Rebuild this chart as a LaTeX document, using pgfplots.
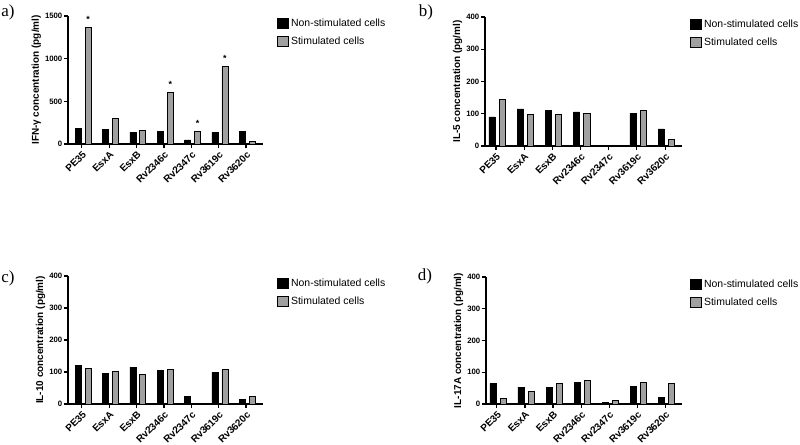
\documentclass[border=0pt]{standalone}
\usepackage{pgfplots}
\pgfplotsset{compat=1.18}
\usepackage{fontspec}
\setmainfont{Liberation Sans}
\newfontfamily\seriffont{Liberation Serif}
\definecolor{barg}{RGB}{160,160,160}
\pgfplotsset{
  panel/.style={
    scale only axis, ybar, bar width=0.22, ymin=0,
    axis lines=left, axis line style={-, line width=1.3bp},
    tick style={line width=1.1bp, black}, tick align=outside, major tick length=4bp,
    xtick={0,...,6},
    xticklabels={PE35,EsxA,EsxB,Rv2346c,Rv2347c,Rv3619c,Rv3620c},
    xticklabel style={rotate=45, anchor=north east, inner sep=1.5bp, font=\bfseries\fontsize{10}{11}\selectfont},
    yticklabel style={font=\bfseries\fontsize{7.8}{9}\selectfont, inner sep=1.5bp},
    /pgf/number format/assume math mode=true,
    /pgf/number format/1000 sep={},
    ylabel style={font=\bfseries\fontsize{10}{12}\selectfont, yshift=-1bp},
    legend style={draw=none, fill=none, at={(1,1)}, anchor=north west, xshift=6bp, yshift=-1bp, font=\fontsize{10.5}{12}\selectfont, row sep=4.5bp, cells={anchor=west}, inner sep=0pt},
    legend image code/.code={\draw[#1] (0bp,-5bp) rectangle (11bp,5bp);},
    clip=false,
  },
  blackbar/.style={fill=black, draw=black, line width=0.6bp, bar shift=-0.14},
  graybar/.style={fill=barg, draw=black, line width=0.9bp, bar shift=0.23},
}
\begin{document}
\begin{tikzpicture}
\useasboundingbox (0,0) rectangle (800bp,-445bp);
% panel a
\begin{axis}[panel, at={(68bp,-144bp)}, anchor=south west, width=195bp, height=128bp,
  xmin=-0.51, xmax=6.62, ymax=1500, ytick={0,500,1000,1500},
  ylabel={IFN-γ concentration (pg/ml)}, legend style={xshift=8bp}]
\addplot[blackbar] coordinates {(0,183) (1,168) (2,140) (3,148) (4,47) (5,136) (6,148)};
\addlegendentry{Non-stimulated cells}
\addplot[graybar] coordinates {(0,1364) (1,300) (2,160) (3,604) (4,144) (5,908) (6,27)};
\addlegendentry{Stimulated cells}
\addplot[draw=none, fill=none, bar shift=0.23, forget plot, nodes near coords={\bfseries *},
  nodes near coords style={font=\fontsize{9}{9}\selectfont, anchor=south, inner sep=0pt, yshift=5bp}]
  coordinates {(0,1364) (3,604) (4,144) (5,908)};
\end{axis}
% panel b
\begin{axis}[panel, at={(485bp,-146bp)}, anchor=south west, width=197bp, height=129bp,
  xmin=-0.39, xmax=6.6, ymax=400, ytick={0,100,200,300,400},
  ylabel={IL-5 concentration (pg/ml)}, legend style={xshift=2bp}]
\addplot[blackbar] coordinates {(0,90) (1,115) (2,110) (3,106) (4,0) (5,101) (6,53)};
\addlegendentry{Non-stimulated cells}
\addplot[graybar] coordinates {(0,144) (1,99) (2,99) (3,102) (4,2) (5,110) (6,20)};
\addlegendentry{Stimulated cells}
\end{axis}
% panel c
\begin{axis}[panel, at={(68bp,-404bp)}, anchor=south west, width=195bp, height=128bp,
  xmin=-0.51, xmax=6.62, ymax=400, ytick={0,100,200,300,400},
  ylabel={IL-10 concentration (pg/ml)}, legend style={xshift=8bp}]
\addplot[blackbar] coordinates {(0,121) (1,96) (2,115) (3,104) (4,25) (5,99) (6,15)};
\addlegendentry{Non-stimulated cells}
\addplot[graybar] coordinates {(0,111) (1,101) (2,92) (3,109) (4,3) (5,109) (6,23)};
\addlegendentry{Stimulated cells}
\end{axis}
% panel d
\begin{axis}[panel, at={(486bp,-404bp)}, anchor=south west, width=196bp, height=127bp,
  xmin=-0.39, xmax=6.6, ymax=400, ytick={0,100,200,300,400},
  ylabel={IL-17A concentration (pg/ml)}, legend style={xshift=2bp}]
\addplot[blackbar] coordinates {(0,65) (1,53) (2,52) (3,67) (4,6) (5,55) (6,22)};
\addlegendentry{Non-stimulated cells}
\addplot[graybar] coordinates {(0,17) (1,40) (2,65) (3,74) (4,12) (5,68) (6,64)};
\addlegendentry{Stimulated cells}
\end{axis}
\node[font=\seriffont\fontsize{17}{17}\selectfont] at (8bp,-12bp) {a)};
\node[font=\seriffont\fontsize{17}{17}\selectfont] at (426bp,-12bp) {b)};
\node[font=\seriffont\fontsize{17}{17}\selectfont] at (8bp,-278bp) {c)};
\node[font=\seriffont\fontsize{17}{17}\selectfont] at (425bp,-276bp) {d)};
\end{tikzpicture}
\end{document}
